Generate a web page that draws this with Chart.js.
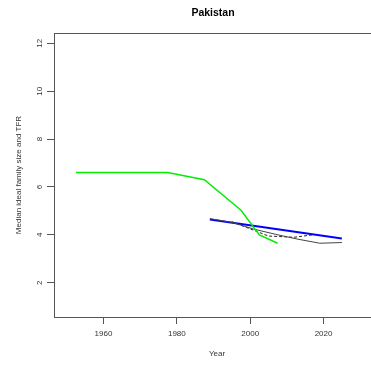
<!DOCTYPE html>
<html>
<head>
<meta charset="utf-8">
<script src="https://cdn.jsdelivr.net/npm/chart.js@4"></script>
<style>
  html, body { margin: 0; padding: 0; background: #fff; overflow: hidden; }
</style>
</head>
<body>
<canvas id="chart_one" width="380" height="367"></canvas>
<script>

// green: UN TFR estimates (5-year periods)
var un_years = [1952.5, 1977.5, 1987.5, 1997.5, 2002.5, 2007.5];
var un_tfr = [6.6, 6.6, 6.3, 5.03, 4.0, 3.65];

// blue: fitted trend of median ideal family size
var trend_years = [1989, 2025];
var trend_vals = [4.64, 3.85];

// black solid: TFR projection
var tfr_years = [1989, 1995, 2001, 2007, 2013, 2019, 2025];
var tfr_vals = [4.68, 4.52, 4.24, 4.02, 3.82, 3.65, 3.68];

// black dashed: median ideal family size (surveys)
var ideal_years = [1995, 2000, 2005, 2012, 2017];
var ideal_vals = [4.55, 4.25, 3.95, 3.9, 4.0];

var y_ticks = [2, 4, 6, 8, 10, 12];
var x_ticks = [1960, 1980, 2000, 2020];

function pts(xs, ys) {
    return xs.map(function (x, i) { return {x: x, y: ys[i]}; });
}

var font_family = "'Liberation Sans', Arial, sans-serif";

// R-style box, title and rotated y labels
var r_plot = {
    id: 'r_plot',
    afterDraw: function (chart) {
        var ctx = chart.ctx;
        var a = chart.chartArea;
        ctx.save();
        ctx.strokeStyle = '#555';
        ctx.lineWidth = 1;
        ctx.strokeRect(a.left + 0.5, a.top + 0.5, a.right - a.left, a.bottom - a.top);

        ctx.fillStyle = '#000';
        ctx.font = "bold 10.5px " + font_family;
        ctx.textAlign = 'center';
        ctx.textBaseline = 'middle';
        ctx.fillText('Pakistan', 213, 13);

        var ys = chart.scales.y;
        ctx.font = "8px " + font_family;
        ctx.fillStyle = '#333';
        y_ticks.forEach(function (v) {
            var py = ys.getPixelForValue(v);
            ctx.save();
            ctx.translate(40, py);
            ctx.rotate(-Math.PI / 2);
            ctx.fillText(String(v), 0, 0);
            ctx.restore();
        });
        ctx.restore();
    }
};

var ctx = document.getElementById('chart_one').getContext('2d');
var chart = new Chart(ctx, {
    type: 'scatter',
    data: {
        datasets: [{
            data: pts(un_years, un_tfr),
            showLine: true,
            borderColor: '#00ee00',
            borderWidth: 1.5,
            pointRadius: 0,
            tension: 0
        }, {
            data: pts(tfr_years, tfr_vals),
            showLine: true,
            borderColor: '#444',
            borderWidth: 1,
            pointRadius: 0,
            tension: 0
        }, {
            data: pts(ideal_years, ideal_vals),
            showLine: true,
            borderColor: '#222',
            borderWidth: 1,
            borderDash: [3, 2],
            pointRadius: 0,
            tension: 0
        }, {
            data: pts(trend_years, trend_vals),
            showLine: true,
            borderColor: '#0000ff',
            borderWidth: 2,
            pointRadius: 0,
            tension: 0
        }]
    },
    options: {
        responsive: false,
        animation: false,
        devicePixelRatio: 1,
        layout: { padding: {top: 33, left: 0, right: 0, bottom: 0} },
        plugins: { legend: {display: false}, tooltip: {enabled: false}, title: {display: false} },
        scales: {
            x: {
                type: 'linear',
                min: 1946.5,
                max: 2035.4,
                afterFit: function (scale) { scale.height = 50; },
                afterBuildTicks: function (scale) {
                    scale.ticks = x_ticks.map(function (v) { return {value: v}; });
                },
                grid: { drawOnChartArea: false, drawTicks: true, tickLength: 7, color: '#555' },
                border: { display: false },
                ticks: {
                    color: '#333',
                    padding: 5,
                    maxRotation: 0,
                    font: {family: font_family, size: 8},
                    callback: function (v) { return String(v); }
                },
                title: {
                    display: true,
                    text: 'Year',
                    color: '#333',
                    font: {family: font_family, size: 8},
                    padding: {top: 0, bottom: 8}
                }
            },
            y: {
                min: 0.57,
                max: 12.43,
                afterFit: function (scale) { scale.width = 54; },
                afterBuildTicks: function (scale) {
                    scale.ticks = y_ticks.map(function (v) { return {value: v}; });
                },
                grid: { drawOnChartArea: false, drawTicks: true, tickLength: 7, color: '#555' },
                border: { display: false },
                ticks: {
                    color: 'rgba(0,0,0,0)',
                    font: {family: font_family, size: 8}
                },
                title: {
                    display: true,
                    text: 'Median ideal family size and TFR',
                    color: '#333',
                    font: {family: font_family, size: 8},
                    padding: {top: 14, bottom: 0}
                }
            }
        }
    },
    plugins: [r_plot]
});
</script>
</body>
</html>
